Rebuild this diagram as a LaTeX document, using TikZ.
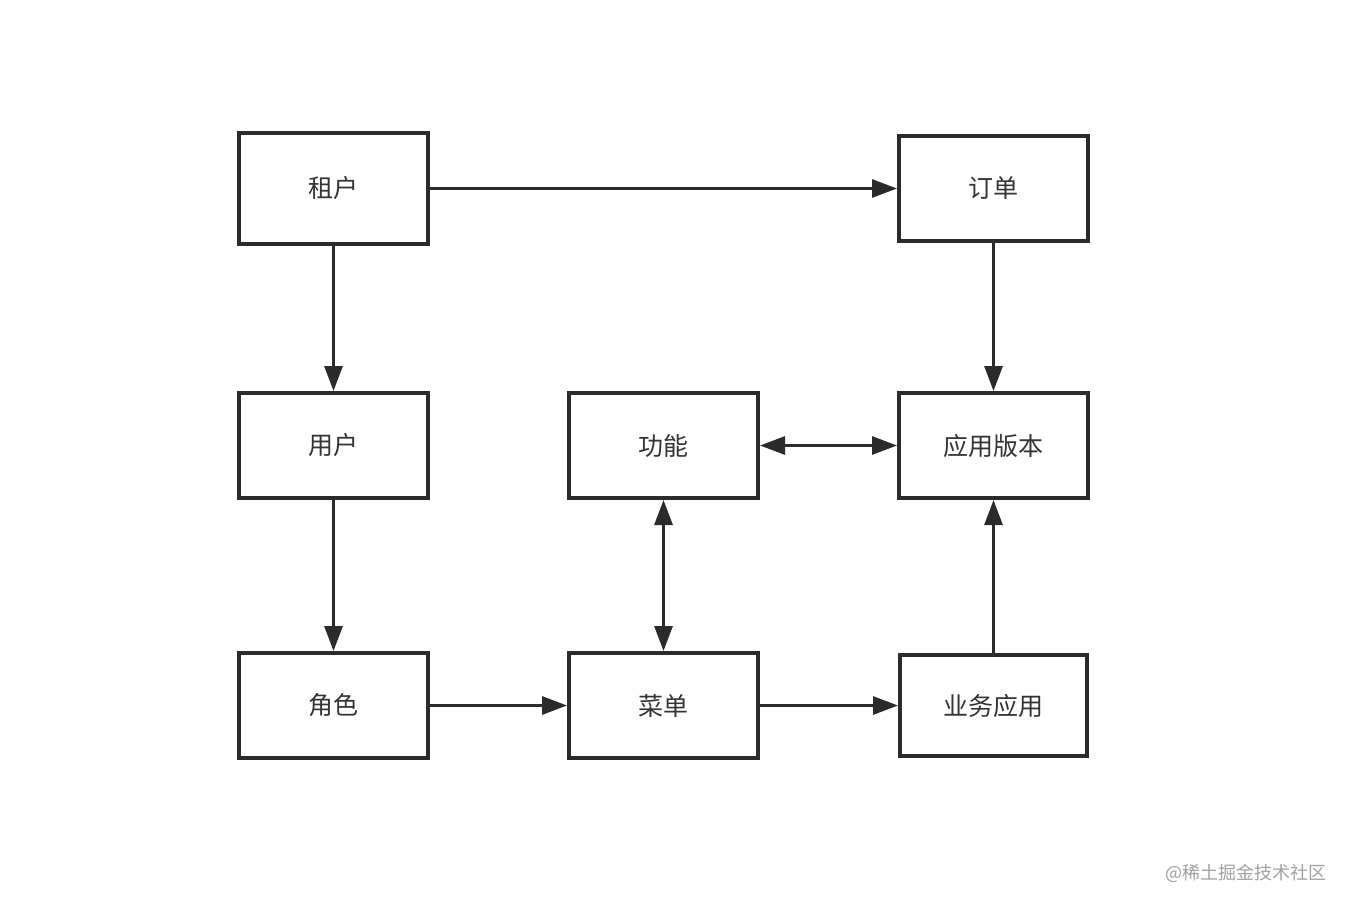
\documentclass[tikz,border=0pt]{standalone}
\usepackage{fontspec}
\setmainfont{Noto Sans CJK SC}
\usetikzlibrary{arrows.meta}

\definecolor{edgegray}{HTML}{2B2B2B}
\definecolor{textgray}{HTML}{333333}
\definecolor{markgray}{HTML}{A0A0A0}

\begin{document}
\begin{tikzpicture}[x=1pt,y=-1pt,font=\fontsize{25}{30}\selectfont,
    box/.style={draw=edgegray,line width=4pt,minimum width=189pt,minimum height=105pt,inner sep=0pt,text=textgray},
    link/.style={draw=edgegray,line width=3pt,-{Triangle[length=25pt,width=18pt]}},
    twoway/.style={link,{Triangle[length=25pt,width=18pt]}-{Triangle[length=25pt,width=18pt]}}]
      \useasboundingbox (0,0) rectangle (1352,908);

      % Boxes, top row
      \node[box,minimum height=111pt] (tenant) at (333.5,188.5) {租户};
      \node[box] (order) at (993.5,188.5) {订单};

      % Boxes, middle row
      \node[box] (user) at (333.5,445.5) {用户};
      \node[box] (func) at (663.5,445.5) {功能};
      \node[box] (version) at (993.5,445.5) {应用版本};

      % Boxes, bottom row
      \node[box] (role) at (333.5,705.5) {角色};
      \node[box] (menu) at (663.5,705.5) {菜单};
      \node[box,minimum width=187pt,minimum height=101pt] (bizapp) at (993.5,705.5) {业务应用};

      % Links
      \draw[link] (tenant) -- (order);
      \draw[link] (tenant) -- (user);
      \draw[link] (user) -- (role);
      \draw[link] (order) -- (version);
      \draw[link] (role) -- (menu);
      \draw[link] (menu) -- (bizapp);
      \draw[link] (bizapp) -- (version);
      \draw[twoway] (func) -- (version);
      \draw[twoway] (func) -- (menu);

      % Watermark
      \node[text=markgray,font=\fontsize{18}{22}\selectfont] (mark) at (1246,873) {@稀土掘金技术社区};
\end{tikzpicture}
\end{document}
